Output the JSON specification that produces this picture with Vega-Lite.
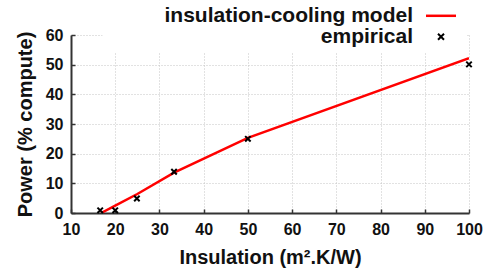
{
  "$schema": "https://vega.github.io/schema/vega-lite/v6.json",
  "width": 398,
  "height": 178,
  "autosize": {"type": "none"},
  "padding": {"left": 71, "top": 35, "right": 22, "bottom": 58},
  "background": "white",
  "config": {
    "font": "Liberation Sans",
    "view": {"stroke": null},
    "axis": {
      "labelFont": "Liberation Sans",
      "labelFontWeight": "bold",
      "labelFontSize": 16,
      "labelColor": "#111",
      "labelOverlap": false,
      "labelPadding": 12,
      "titleFont": "Liberation Sans",
      "titleFontWeight": "bold",
      "titleFontSize": 20,
      "titleColor": "#111",
      "titlePadding": 10,
      "domainColor": "#333",
      "domainWidth": 2,
      "tickColor": "#333",
      "tickSize": -4,
      "tickWidth": 1.5,
      "gridColor": "#c4c4c4",
      "gridDash": [1, 2],
      "gridWidth": 1
    }
  },
  "datasets": {
    "model": [
      {"insulation": 16.8, "power": 0, "series": "insulation-cooling model"},
      {"insulation": 20, "power": 2.5, "series": "insulation-cooling model"},
      {"insulation": 25, "power": 6.4, "series": "insulation-cooling model"},
      {"insulation": 33.3, "power": 13.6, "series": "insulation-cooling model"},
      {"insulation": 50, "power": 25.3, "series": "insulation-cooling model"},
      {"insulation": 100, "power": 52.2, "series": "insulation-cooling model"}
    ],
    "empirical": [
      {"insulation": 16.6, "power": 0.9, "series": "empirical"},
      {"insulation": 20, "power": 0.9, "series": "empirical"},
      {"insulation": 24.9, "power": 4.9, "series": "empirical"},
      {"insulation": 33.3, "power": 13.9, "series": "empirical"},
      {"insulation": 50, "power": 25, "series": "empirical"},
      {"insulation": 100, "power": 50.1, "series": "empirical"}
    ]
  },
  "encoding": {
    "x": {
      "field": "insulation",
      "type": "quantitative",
      "scale": {"domain": [10, 100], "nice": false, "zero": false},
      "axis": {"values": [10, 20, 30, 40, 50, 60, 70, 80, 90, 100], "title": "Insulation (m².K/W)", "labelFlush": false}
    },
    "y": {
      "field": "power",
      "type": "quantitative",
      "scale": {"domain": [0, 60], "nice": false},
      "axis": {"values": [0, 10, 20, 30, 40, 50, 60], "title": "Power (% compute)", "labelFlush": false}
    },
    "color": {
      "field": "series",
      "type": "nominal",
      "scale": {"domain": ["insulation-cooling model", "empirical"], "range": ["#ff0000", "#000000"]},
      "legend": {
        "title": null,
        "orient": "none",
        "legendX": 31.5,
        "legendY": -34.7,
        "padding": 5,
        "fillColor": "white",
        "labelFont": "Liberation Sans",
        "labelFontWeight": "bold",
        "labelFontSize": 21,
        "labelColor": "#111",
        "labelAlign": "right",
        "labelOffset": -38.5,
        "symbolOffset": 323,
        "symbolSize": 36,
        "symbolStrokeWidth": 2.5,
        "rowPadding": -1,
        "labelLimit": 400,
        "encode": {
          "symbols": {
            "update": {
              "strokeWidth": {"signal": "datum.value === 'empirical' ? 2 : 2.5"}
            }
          }
        }
      }
    }
  },
  "layer": [
    {
      "data": {"name": "model"},
      "mark": {"type": "line", "strokeWidth": 2.5, "clip": true}
    },
    {
      "data": {"name": "empirical"},
      "mark": {"type": "point", "filled": false, "strokeWidth": 2, "size": 30, "opacity": 1},
      "encoding": {
        "shape": {
          "field": "series",
          "type": "nominal",
          "scale": {"domain": ["insulation-cooling model", "empirical"], "range": ["M-5,0L5,0", "M-1,-1L1,1M1,-1L-1,1"]}
        }
      }
    }
  ]
}
